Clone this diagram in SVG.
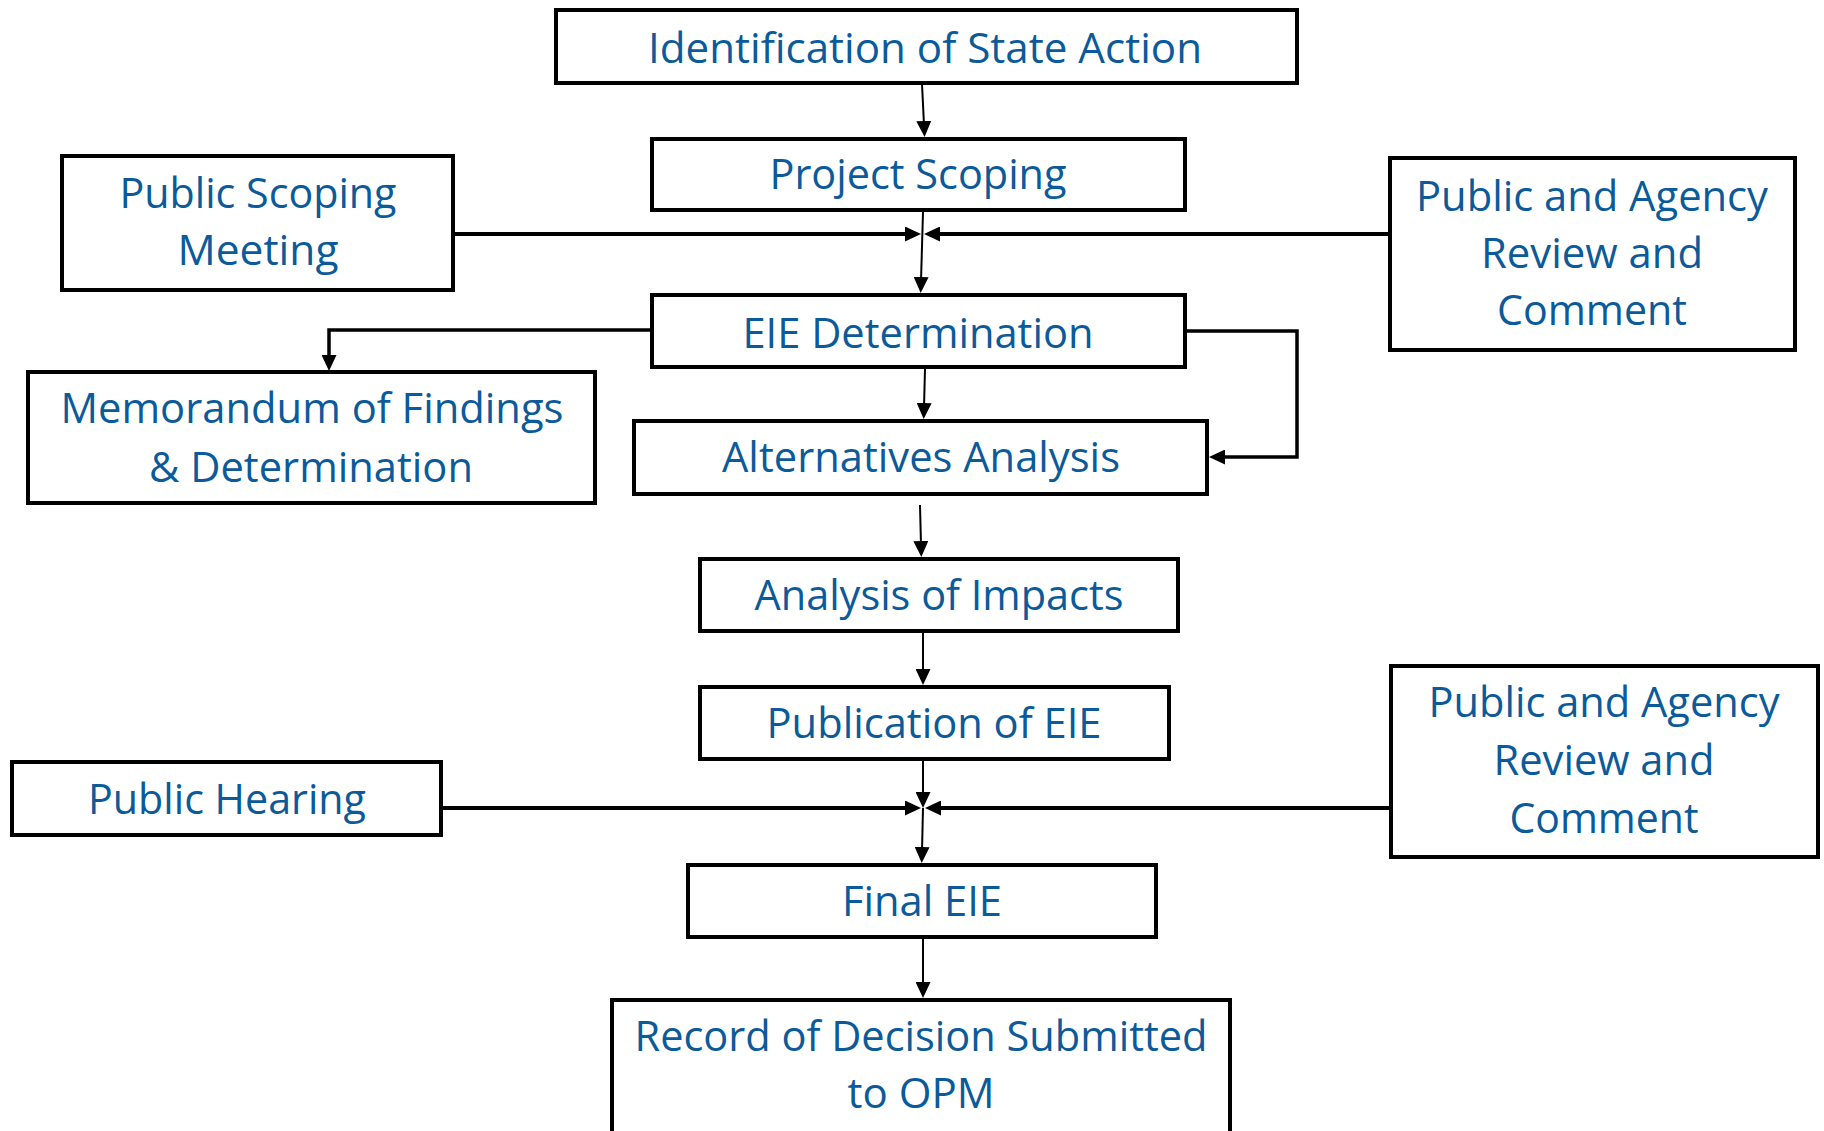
<svg xmlns="http://www.w3.org/2000/svg" width="1824" height="1131" viewBox="0 0 1824 1131">
<style>
.box{fill:#fff;stroke:#000;stroke-width:4}
.t{font-family:"Open Sans","Liberation Sans",sans-serif;font-size:42px;fill:#0b5a9a;text-anchor:middle}
.thin{fill:none;stroke:#000;stroke-width:2}
.thick{fill:none;stroke:#000;stroke-width:4}
.mid{fill:none;stroke:#000;stroke-width:3.5}
</style>
<defs>
<marker id="ah" viewBox="0 0 16 15" refX="4" refY="7.5" markerWidth="16" markerHeight="15" markerUnits="userSpaceOnUse" orient="auto">
<path d="M0,0 L16,7.5 L0,15 z" fill="#000"/>
</marker>
</defs>
<rect width="1824" height="1131" fill="#fff"/>
<g id="connectors">
<path class="thin" d="M922,84 L924,125" marker-end="url(#ah)"/>
<path class="thin" d="M923,212 L921,281" marker-end="url(#ah)"/>
<path class="thick" d="M455,234 L909,234" marker-end="url(#ah)"/>
<path class="thick" d="M1390,234 L936,234" marker-end="url(#ah)"/>
<path class="mid" d="M652,330 L329,330 L329,359" marker-end="url(#ah)"/>
<path class="mid" d="M1185,331 L1297,331 L1297,457 L1221,457" marker-end="url(#ah)"/>
<path class="thin" d="M925,369 L924,407" marker-end="url(#ah)"/>
<path class="thin" d="M920,505 L921,545" marker-end="url(#ah)"/>
<path class="thin" d="M923,633 L923,673" marker-end="url(#ah)"/>
<path class="thin" d="M923,761 L923,796" marker-end="url(#ah)"/>
<path class="thin" d="M923,808 L922,851" marker-end="url(#ah)"/>
<path class="thick" d="M443,808 L909,808" marker-end="url(#ah)"/>
<path class="thick" d="M1391,808 L937,808" marker-end="url(#ah)"/>
<path class="thin" d="M923,939 L923,986" marker-end="url(#ah)"/>
</g>
<g id="n1"><rect class="box" x="556" y="10" width="741" height="73"/><text class="t" x="925" y="63" textLength="554" lengthAdjust="spacingAndGlyphs">Identification of State Action</text></g>
<g id="n2"><rect class="box" x="652" y="139" width="533" height="71"/><text class="t" x="918" y="189" textLength="297" lengthAdjust="spacingAndGlyphs">Project Scoping</text></g>
<g id="n3"><rect class="box" x="62" y="156" width="391" height="134"/><text class="t" x="258" y="208" textLength="277" lengthAdjust="spacingAndGlyphs">Public Scoping</text><text class="t" x="258" y="265" textLength="161" lengthAdjust="spacingAndGlyphs">Meeting</text></g>
<g id="n4"><rect class="box" x="1390" y="158" width="405" height="192"/><text class="t" x="1592" y="211" textLength="352" lengthAdjust="spacingAndGlyphs">Public and Agency</text><text class="t" x="1592" y="268" textLength="222" lengthAdjust="spacingAndGlyphs">Review and</text><text class="t" x="1592" y="325" textLength="190" lengthAdjust="spacingAndGlyphs">Comment</text></g>
<g id="n5"><rect class="box" x="652" y="295" width="533" height="72"/><text class="t" x="918" y="348" textLength="351" lengthAdjust="spacingAndGlyphs">EIE Determination</text></g>
<g id="n6"><rect class="box" x="28" y="372" width="567" height="131"/><text class="t" x="312" y="423" textLength="503" lengthAdjust="spacingAndGlyphs">Memorandum of Findings</text><text class="t" x="311" y="482" textLength="324" lengthAdjust="spacingAndGlyphs">&amp; Determination</text></g>
<g id="n7"><rect class="box" x="634" y="421" width="573" height="73"/><text class="t" x="921" y="472" textLength="398" lengthAdjust="spacingAndGlyphs">Alternatives Analysis</text></g>
<g id="n8"><rect class="box" x="700" y="559" width="478" height="72"/><text class="t" x="939" y="610" textLength="369" lengthAdjust="spacingAndGlyphs">Analysis of Impacts</text></g>
<g id="n9"><rect class="box" x="700" y="687" width="469" height="72"/><text class="t" x="934" y="738" textLength="335" lengthAdjust="spacingAndGlyphs">Publication of EIE</text></g>
<g id="n10"><rect class="box" x="12" y="762" width="429" height="73"/><text class="t" x="227" y="814" textLength="278" lengthAdjust="spacingAndGlyphs">Public Hearing</text></g>
<g id="n11"><rect class="box" x="1391" y="666" width="427" height="191"/><text class="t" x="1604" y="717" textLength="351" lengthAdjust="spacingAndGlyphs">Public and Agency</text><text class="t" x="1604" y="775" textLength="221" lengthAdjust="spacingAndGlyphs">Review and</text><text class="t" x="1604" y="833" textLength="189" lengthAdjust="spacingAndGlyphs">Comment</text></g>
<g id="n12"><rect class="box" x="688" y="865" width="468" height="72"/><text class="t" x="922" y="916" textLength="160" lengthAdjust="spacingAndGlyphs">Final EIE</text></g>
<g id="n13"><rect class="box" x="612" y="1000" width="618" height="140"/><text class="t" x="921" y="1051" textLength="573" lengthAdjust="spacingAndGlyphs">Record of Decision Submitted</text><text class="t" x="921" y="1108" textLength="147" lengthAdjust="spacingAndGlyphs">to OPM</text></g>
</svg>
